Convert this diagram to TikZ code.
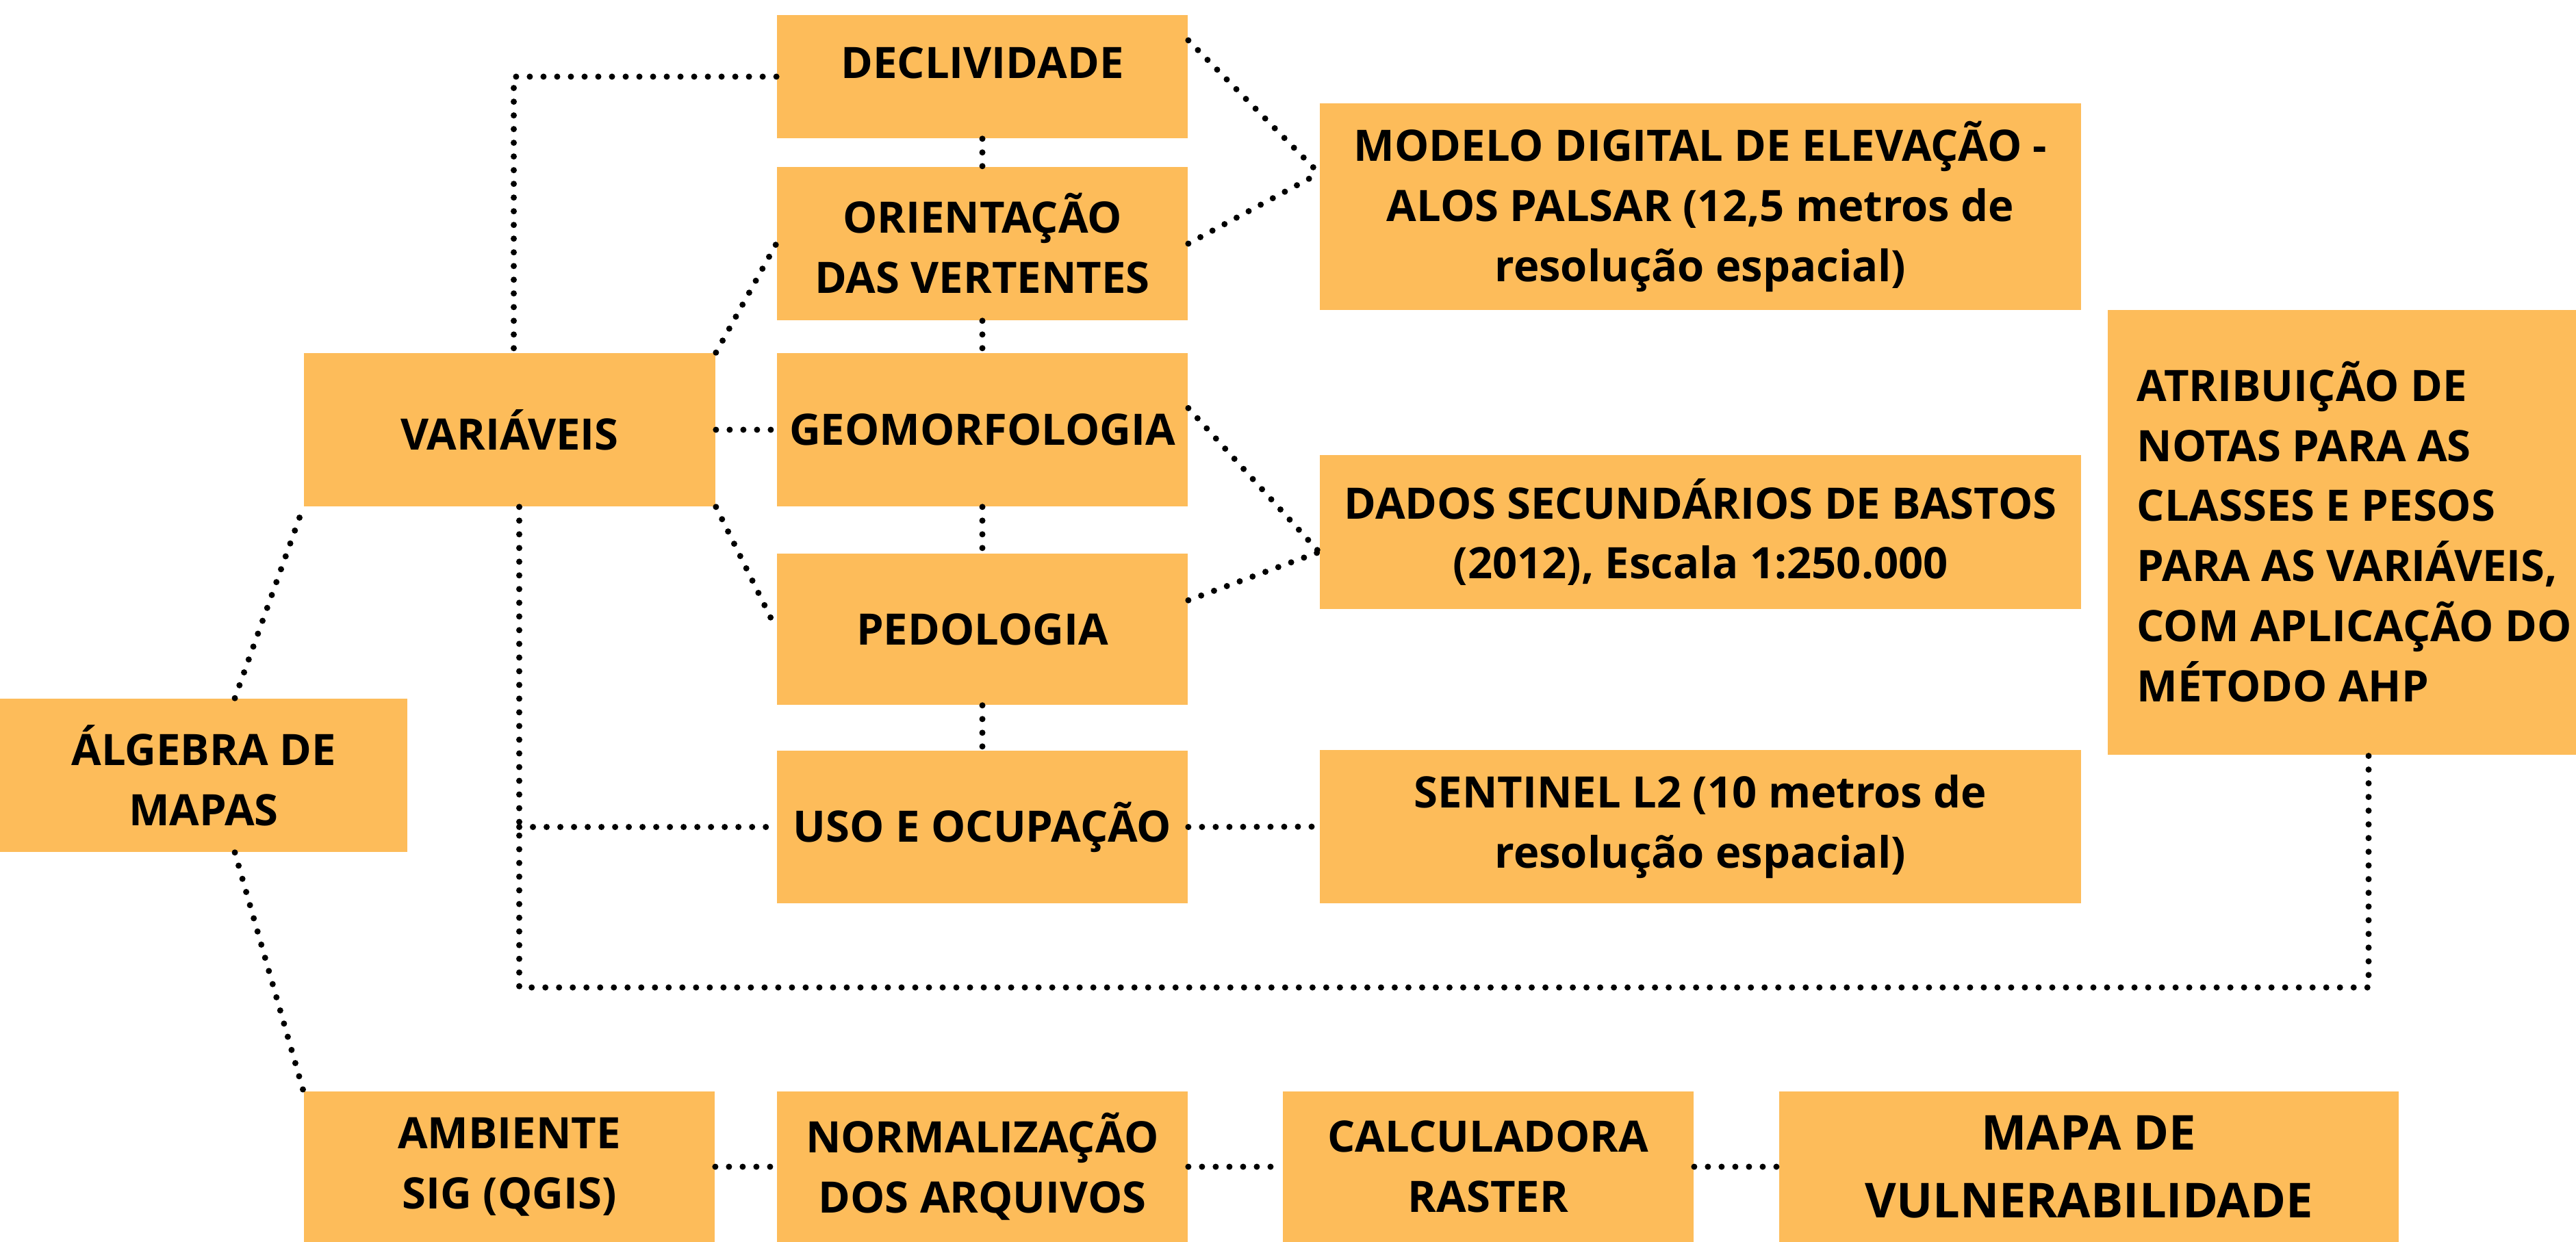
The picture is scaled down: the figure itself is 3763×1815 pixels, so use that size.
\documentclass[tikz,border=0pt]{standalone}
\usepackage{fontspec}
\setmainfont{Open Sans}
\definecolor{boxc}{HTML}{FDBC5A}
\begin{document}
\begin{tikzpicture}[x=0.01cm,y=-0.01cm,
  box/.style={fill=boxc,inner sep=0pt,align=center,text=black,font=\bfseries\fontsize{18}{25}\selectfont},
  txt/.style={inner sep=0pt,align=left,text=black,font=\bfseries\fontsize{18}{25}\selectfont},
  conn/.style={line width=0.09cm,line cap=round,dash pattern=on 0pt off 0.2cm}]
\useasboundingbox (0,0) rectangle (3763,1815);
% column of variables
\node[box,minimum width=6cm,minimum height=1.8cm] (decl) at (1435,112) {\raisebox{0.2cm}[\height][\depth]{DECLIVIDADE}};
\node[box,minimum width=6cm,minimum height=2.24cm] (orient) at (1435,356) {ORIENTAÇÃO\\DAS VERTENTES};
\node[box,minimum width=6cm,minimum height=2.24cm] (geom) at (1435,628) {GEOMORFOLOGIA};
\node[box,minimum width=6cm,minimum height=2.21cm] (pedo) at (1435,919.5) {PEDOLOGIA};
\node[box,minimum width=6cm,minimum height=2.23cm] (uso) at (1435,1208.5) {USO E OCUPAÇÃO};
\node[box,minimum width=6.01cm,minimum height=2.24cm] (var) at (744.5,628) {VARIÁVEIS};
% sources
\node[box,minimum width=11.12cm,minimum height=3.02cm] (modelo) at (2484,302) {MODELO DIGITAL DE ELEVAÇÃO -\\ALOS PALSAR (12,5 metros de\\resolução espacial)};
\node[box,minimum width=11.12cm,minimum height=2.25cm] (dados) at (2484,777.5) {DADOS SECUNDÁRIOS DE BASTOS\\(2012), Escala 1:250.000};
\node[box,minimum width=11.12cm,minimum height=2.24cm] (sent) at (2484,1208) {SENTINEL L2 (10 metros de\\resolução espacial)};
% weights
\node[box,anchor=north west,minimum width=6.85cm,minimum height=6.5cm] (atrib) at (3078,452) {};
\node[txt,anchor=west] (atribtxt) at (3121,777) {ATRIBUIÇÃO DE\\NOTAS PARA AS\\CLASSES E PESOS\\PARA AS VARIÁVEIS,\\COM APLICAÇÃO DO\\MÉTODO AHP};
% left / bottom
\node[box,minimum width=5.95cm,minimum height=2.24cm] (alg) at (297.5,1133) {ÁLGEBRA DE\\MAPAS};
\node[box,minimum width=6cm,minimum height=2.2cm] (amb) at (744,1705) {AMBIENTE\\SIG (QGIS)};
\node[box,minimum width=6cm,minimum height=2.2cm] (norm) at (1435,1705) {NORMALIZAÇÃO\\DOS ARQUIVOS};
\node[box,minimum width=6cm,minimum height=2.2cm] (calcbox) at (2174,1705) {CALCULADORA\\RASTER};
\node[box,minimum width=9.05cm,minimum height=2.2cm,font=\bfseries\fontsize{20}{28}\selectfont] (mapa) at (3051.5,1705) {MAPA DE\\VULNERABILIDADE};
\coordinate (loopc) at (3460,1443);
% connectors
\draw[conn] (decl.west) -| ([xshift=0.06cm]var.north);
\draw[conn] (decl.south) -- (orient.north);
\draw[conn] (orient.south) -- (geom.north);
\draw[conn] (geom.south) -- (pedo.north);
\draw[conn] (pedo.south) -- (uso.north);
\draw[conn] (var.north east) -- (orient.west);
\draw[conn] (var.east) -- (geom.west);
\draw[conn] (var.south east) -- (pedo.west);
\draw[conn] ([xshift=0.14cm]var.south) |- (loopc) -- (atrib.south -| loopc);
\draw[conn] ([xshift=0.14cm]var.south |- uso.west) -- (uso.west);
\draw[conn] (decl.10) -- (modelo.175);
\draw[conn] (orient.east) -- (modelo.175);
\draw[conn] (geom.6) -- (dados.183);
\draw[conn] (pedo.8) -- (dados.183);
\draw[conn] (uso.east) -- (sent.west);
\draw[conn] (alg.68) -- (var.south west);
\draw[conn] (alg.292) -- (amb.north west);
\draw[conn] (amb.east) -- (norm.west);
\draw[conn] (norm.east) -- (calcbox.west);
\draw[conn] (calcbox.east) -- (mapa.west);
\end{tikzpicture}
\end{document}
